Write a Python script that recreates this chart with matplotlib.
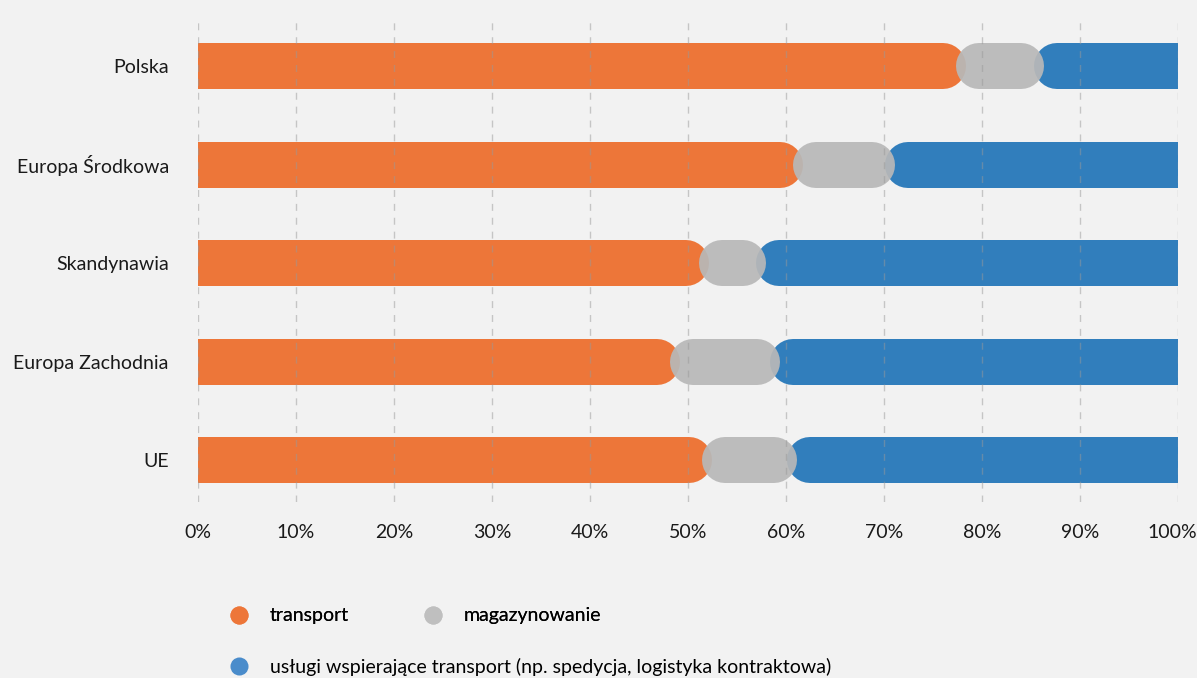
import numpy as np
import matplotlib
matplotlib.use("Agg")
import matplotlib.pyplot as plt
import matplotlib.transforms as mtransforms
from matplotlib.lines import Line2D

plt.rcParams['font.family'] = ['Lato', 'DejaVu Sans']

regions = ["Polska", "Europa Środkowa", "Skandynawia", "Europa Zachodnia", "UE"]
transport = [77.9, 61.2, 51.6, 48.7, 51.9]
magazynowanie = [7.9, 9.4, 5.8, 10.2, 8.7]
uslugi = [14.2, 29.4, 42.6, 41.1, 39.4]
series_names = ["transport", "magazynowanie",
                "usługi wspierające transport (np. spedycja, logistyka kontraktowa)"]
bar_colors = ["#ED7639", "#B8B8B8", "#317EBC"]
legend_colors = ["#ED7639", "#BFBFBF", "#4A8CCB"]
ticks = np.arange(0, 101, 10)

W, H, DPI = 1197, 678, 100
BG = "#F2F2F2"
FS = 14


def main():
    fig = plt.figure(figsize=(W / DPI, H / DPI), dpi=DPI, facecolor=BG)
    ax_l, ax_r, ax_t, ax_b = 198, 1178, 16, 502
    ax = fig.add_axes([ax_l / W, 1 - ax_b / H, (ax_r - ax_l) / W, (ax_b - ax_t) / H])
    ax.set_facecolor(BG)

    px = 100 / (ax_r - ax_l)      # data units per pixel
    bar_px = 46
    r = bar_px / 2 * px           # cap radius in data units
    d = 5 * px                    # overlap each side
    lw = bar_px * 72 / DPI

    y = np.arange(len(regions))
    data = np.array([transport, magazynowanie, uslugi])
    starts = np.vstack([np.zeros(len(regions)), np.cumsum(data, axis=0)[:-1]])
    ends = starts + data

    # orange and blue first, grey on top
    for k in [0, 2, 1]:
        for i in range(len(regions)):
            a, b = starts[k, i], ends[k, i]
            x0 = -r if k == 0 else a - d + r
            x1 = 100 + r if k == 2 else b + d - r
            ax.plot([x0, x1], [y[i], y[i]], color=bar_colors[k], lw=lw,
                    solid_capstyle='round', alpha=0.93 if k == 1 else 1.0,
                    zorder=2 + (k == 1))

    for t in ticks:
        ax.axvline(t, color='#999999', alpha=0.5, lw=1, ls=(0, (5, 5)), zorder=5)

    ax.set_xlim(0, 100)
    ax.set_ylim(4 + 42 / 98.5, -50 / 98.5)
    ax.set_yticks(y)
    ax.set_yticklabels(regions, fontsize=FS, color='#1a1a1a')
    ax.set_xticks([])
    ax.tick_params(axis='both', length=0)
    ax.tick_params(axis='y', pad=21)

    # x tick labels as text so the last one can sit inside the figure
    trans = ax.get_xaxis_transform()
    for t in ticks:
        tr = trans
        if t == 100:
            tr = trans + mtransforms.ScaledTranslation(-6 / DPI, 0, fig.dpi_scale_trans)
        ax.text(t, -31 / (ax_b - ax_t), f"{t}%", transform=tr, ha='center',
                va='center', fontsize=FS, color='#1a1a1a', clip_on=False)

    for s in ax.spines.values():
        s.set_visible(False)

    handles = [Line2D([], [], ls='none', marker='o', markersize=13,
                      markerfacecolor=c, markeredgecolor='none') for c in legend_colors]
    leg1 = fig.legend(handles[:2], series_names[:2], ncol=2, loc='center left',
                      bbox_to_anchor=(229 / W, 1 - 616 / H), frameon=False,
                      fontsize=FS, borderpad=0, borderaxespad=0, handlelength=1,
                      handletextpad=1.1, columnspacing=3.8)
    fig.add_artist(leg1)
    fig.legend(handles[2:], series_names[2:], loc='center left',
               bbox_to_anchor=(229 / W, 1 - 667 / H), frameon=False,
               fontsize=FS, borderpad=0, borderaxespad=0, handlelength=1,
               handletextpad=1.1)

    fig.savefig("out.png", dpi=DPI, facecolor=BG)


if __name__ == '__main__':
    main()
